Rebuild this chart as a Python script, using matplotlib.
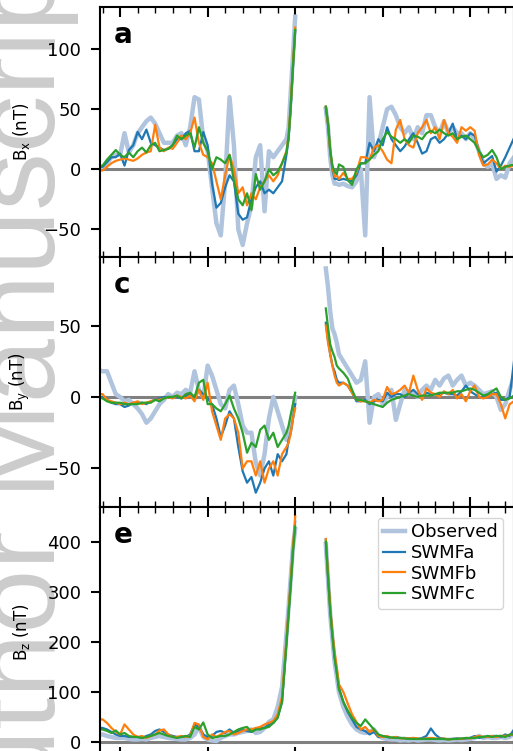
import matplotlib
matplotlib.use('Agg')
import matplotlib.pyplot as plt
import numpy as np
from matplotlib.ticker import MultipleLocator

# time axis (minutes from closest approach), data gap between the two segments
t_pre = list(np.arange(-22.5, -0.75, 0.5)) + [-0.75, -0.5, -0.25, 0.0]
t_post = [3.5, 3.75, 4.0, 4.25, 4.5, 4.75] + list(np.arange(5.0, 25.01, 0.5))
t_gap = 1.75

# ---- Bx ----
bx_obs_pre = [2, 2, 5, 10, 12, 12, 30, 14, 20, 30, 35, 40, 43, 38, 30, 22, 22, 22, 28, 30,
              20, 35, 60, 58, 25, 15, -15, -45, -55, -10, 60, 20, -50, -63, -45, -30, 10, 20, -35, 15,
              10, 15, 20, 25, 35, 65, 95, 127]
bx_obs_post = [50, 35, 10, -5, -12, -12, -13,
               -12, -14, -15, -10, 0, -55, 60, 10, 20, 35,
               50, 52, 45, 35, 30, 35, 25, 35, 30, 45,
               45, 35, 30, 40, 30, 35, 30, 30, 25, 30,
               25, 15, 5, 2, 5, -8, -5, -7, 5, 10]
bx_a_pre = [2, 2, 6, 10, 10, 13, 3, 16, 20, 31, 25, 33, 22, 20, 18, 16, 17, 20, 25, 25,
            30, 32, 15, 15, 31, 20, -12, -32, -28, -15, -5, -10, -37, -42, -40, -25, -15, -10, -20, -17,
            -20, -15, -10, 12, 25, 52, 85, 115]
bx_a_post = [52, 38, 15, 0, -8, -8, -9,
             -8, -9, -10, -5, 5, 5, 22, 15, 25, 20,
             35, 25, 20, 15, 19, 25, 30, 22, 13, 15,
             25, 27, 22, 25, 30, 38, 25, 28, 25, 30,
             28, 15, 5, 8, 11, -2, 3, 10, 18, 26]
bx_b_pre = [-1, -1, 2, 5, 7, 8, 9, 8, 7, 9, 12, 14, 15, 37, 18, 15, 18, 17, 22, 28,
            25, 30, 43, 22, 12, 10, 5, -10, -25, -5, 12, 0, -20, -15, -30, -20, -25, -15, -10, -5,
            -10, -5, 5, 15, 28, 55, 88, 118]
bx_b_post = [52, 38, 15, 2, -6, -5, -8,
             -3, -8, -8, -3, 10, 10, 8, 18, 20, 15,
             8, 5, 33, 41, 25, 20, 18, 30, 35, 41,
             30, 35, 25, 41, 30, 27, 22, 35, 32, 35,
             32, 12, 3, 4, 8, 5, 0, 3, 2, 3]
bx_c_pre = [2, 3, 8, 12, 16, 12, 10, 14, 10, 15, 18, 14, 20, 22, 15, 16, 17, 20, 28, 25,
            28, 30, 18, 35, 22, 15, 0, 10, 8, 5, 12, -10, -25, -30, -20, -34, -4, -17, -10, 0,
            -5, -2, 5, 14, 27, 54, 86, 116]
bx_c_post = [52, 38, 16, 3, -2, -4, 4,
             2, -9, -13, 0, 5, 5, 8, 12, 15, 25,
             31, 27, 25, 22, 25, 22, 28, 27, 25, 30,
             32, 30, 33, 30, 28, 30, 25, 27, 28, 25,
             22, 15, 10, 12, 16, 10, 0, 2, 3, 4]

# ---- By ----
by_obs_pre = [19, 18, 18, 10, 2, 0, -3, -2, -5, -8, -12, -18, -15, -10, -5, -2, 2, 0, 3, 2,
              5, 3, 18, 5, 0, 22, 15, 5, -5, -8, 5, 8, -5, -20, -25, -25, -46, -55, -40, -15,
              0, -10, -20, -30, -25, -20, -10, 0]
by_obs_post = [90, 77, 60, 48, 44, 38, 30,
               25, 20, 15, 10, 12, 25, -18, 0, 2, -5,
               0, 5, -16, -5, 5, 2, 3, 0, 5, 8,
               5, 12, 8, 13, 15, 8, 12, 15, 8, 10,
               8, 5, 2, 3, 4, 0, -9, -5, 5, 14]
by_a_pre = [0, 0, -2, -4, -5, -5, -7, -6, -4, -4, -4, -5, -3, -2, -1, 0, 0, 0, 0, -1,
            1, 2, 0, 5, 2, -1, -5, -15, -28, -20, -10, -15, -35, -52, -60, -56, -67, -60, -50, -45,
            -55, -40, -45, -40, -30, -25, -15, -5]
by_a_post = [52, 40, 30, 22, 18, 12, 10,
             10, 8, 3, -3, -3, -2, -5, -3, -2, -3,
             3, 0, 2, 2, 0, 3, 5, 2, 0, 3,
             2, 2, 2, 3, 2, 2, 1, 4, 8, 4,
             2, 0, 0, 1, 2, 3, -2, -2, 0, 25]
by_b_pre = [2, 2, -2, -3, -4, -5, -4, -5, -4, -3, -5, -4, -3, -2, -2, -1, 0, -1, 1, 0,
            -1, 1, -3, 5, -2, 10, -10, -20, -30, -15, -12, -15, -25, -50, -45, -45, -55, -45, -60, -50,
            -45, -55, -40, -35, -32, -25, -15, -8]
by_b_post = [50, 38, 30, 22, 15, 10, 8,
             10, 8, 3, -2, -3, -3, -4, -2, -3, -2,
             7, 2, 3, 5, 8, 3, 15, 5, -2, 6,
             3, 2, 0, 4, 2, 5, -1, 2, -3, 4,
             8, 0, -1, 0, 2, 2, -5, -15, -5, -3]
by_c_pre = [0, -1, -3, -4, -4, -4, -5, -5, -5, -5, -4, -4, -4, -2, -3, -1, 0, 0, 1, -1,
            2, 3, 0, 10, 12, -5, -5, -8, -10, -5, 1, -8, -15, -25, -39, -32, -35, -23, -20, -30,
            -25, -35, -30, -25, -20, -12, -5, 3]
by_c_post = [62, 49, 37, 32, 28, 22, 20,
             17, 13, 5, -2, -2, -3, -4, -5, -6, -7,
             -4, -2, -1, 0, 1, 2, 1, 0, 1, 1,
             1, 2, 3, 3, 3, 3, 4, 4, 5, 6,
             5, 3, 1, 2, 4, 6, 0, -2, -1, 1]

# ---- Bz ----
bz_obs_pre = [15, 15, 12, 10, 8, 8, 8, 6, 5, 5, 6, 5, 8, 10, 12, 10, 8, 7, 6, 5,
              5, 8, 15, 30, 10, 5, 3, 2, 8, 12, 15, 15, 18, 20, 22, 25, 18, 20, 28, 40,
              45, 70, 110, 215, 270, 330, 390, 425]
bz_obs_post = [395, 325, 255, 205, 160, 130, 100,
               70, 50, 35, 25, 20, 18, 20, 25, 12, 8,
               6, 5, 5, 3, 4, 3, 5, 3, 4, 5,
               5, 4, 3, 4, 3, 4, 5, 4, 5, 6,
               8, 12, 8, 10, 8, 8, 10, 8, 10, 18]
bz_a_pre = [28, 28, 25, 20, 15, 12, 12, 10, 10, 10, 8, 12, 15, 22, 25, 20, 15, 12, 10, 10,
            10, 15, 35, 30, 15, 10, 12, 20, 22, 18, 25, 18, 22, 25, 22, 20, 25, 28, 28, 35,
            38, 50, 80, 200, 260, 320, 385, 440]
bz_a_post = [405, 330, 265, 215, 170, 140, 108,
             80, 60, 45, 30, 25, 22, 15, 20, 10, 12,
             10, 8, 10, 8, 8, 7, 8, 6, 8, 12,
             27, 15, 8, 6, 6, 6, 7, 6, 7, 8,
             12, 8, 10, 10, 12, 12, 10, 15, 12, 25]
bz_b_pre = [45, 45, 38, 28, 20, 15, 35, 25, 15, 10, 12, 8, 12, 15, 23, 25, 15, 10, 10, 12,
            10, 12, 38, 35, 10, 5, 15, 10, 15, 20, 22, 15, 18, 22, 25, 25, 28, 30, 35, 38,
            42, 55, 90, 205, 265, 325, 390, 450]
bz_b_post = [405, 335, 270, 220, 180, 150, 115,
             100, 77, 55, 40, 25, 30, 20, 25, 12, 10,
             12, 8, 10, 7, 8, 7, 8, 7, 6, 7,
             8, 7, 6, 7, 5, 6, 6, 6, 8, 7,
             10, 12, 10, 10, 12, 10, 12, 12, 14, 15]
bz_c_pre = [25, 25, 22, 18, 23, 15, 18, 12, 10, 10, 8, 10, 12, 15, 18, 15, 12, 10, 8, 10,
            12, 10, 30, 25, 39, 15, 8, 10, 12, 12, 15, 20, 25, 28, 30, 20, 25, 25, 28, 30,
            38, 48, 80, 195, 255, 315, 380, 430]
bz_c_post = [400, 330, 262, 212, 168, 138, 105,
             80, 63, 48, 38, 32, 45, 35, 25, 15, 12,
             10, 9, 8, 8, 7, 6, 6, 6, 6, 6,
             6, 6, 6, 6, 5, 6, 6, 7, 8, 8,
             8, 10, 10, 12, 10, 12, 12, 10, 15, 15]

labels = ['Observed', 'SWMFa', 'SWMFb', 'SWMFc']
colors = ['lightsteelblue', 'tab:blue', 'tab:orange', 'tab:green']
widths = [3.2, 1.6, 1.6, 1.6]

time = np.array(t_pre + [t_gap] + t_post)


def join(pre, post):
    return np.array(pre + [np.nan] + post, dtype=float)


panels = [
    ('a', r'$\mathrm{B_x}$ (nT)', (-73, 135), [-50, 0, 50, 100],
     [bx_obs_pre, bx_a_pre, bx_b_pre, bx_c_pre], [bx_obs_post, bx_a_post, bx_b_post, bx_c_post]),
    ('c', r'$\mathrm{B_y}$ (nT)', (-77, 98), [-50, 0, 50],
     [by_obs_pre, by_a_pre, by_b_pre, by_c_pre], [by_obs_post, by_a_post, by_b_post, by_c_post]),
    ('e', r'$\mathrm{B_z}$ (nT)', (-30, 469), [0, 100, 200, 300, 400],
     [bz_obs_pre, bz_a_pre, bz_b_pre, bz_c_pre], [bz_obs_post, bz_a_post, bz_b_post, bz_c_post]),
]

W, H = 513, 751
fig = plt.figure(figsize=(W / 100, H / 100), dpi=100)

fig.text(55 / W, 1 - 870 / H, 'Author Manuscript', rotation=90, rotation_mode='anchor',
         ha='left', va='baseline', fontsize=83, color='#cccccc',
         family='Liberation Sans', zorder=-5)

tops = [7, 257, 507]
for (tag, ylab, ylim, yticks, pre, post), top in zip(panels, tops):
    ax = fig.add_axes([100 / W, 1 - (top + 250) / H, 414 / W, 250 / H])
    ax.axhline(0, color='gray', lw=2.2, zorder=1)
    for p, q, lab, c, lw in zip(pre, post, labels, colors, widths):
        ax.plot(time, join(p, q), color=c, lw=lw, label=lab, zorder=2)
    ax.set_xlim(-22.3, 25.0)
    ax.set_ylim(*ylim)
    ax.set_yticks(yticks)
    ax.xaxis.set_major_locator(MultipleLocator(10))
    ax.xaxis.set_minor_locator(MultipleLocator(2))
    ax.tick_params(axis='x', which='both', direction='in', top=True, bottom=True,
                   labelbottom=False)
    ax.tick_params(axis='x', which='major', length=7, width=1.5)
    ax.tick_params(axis='x', which='minor', length=4, width=1.0)
    ax.tick_params(axis='y', which='major', direction='out', length=6.5, width=1.5,
                   pad=7, labelsize=13)
    for s in ax.spines.values():
        s.set_linewidth(1.5)
    ax.set_ylabel(ylab, fontsize=12)
    ax.yaxis.set_label_coords(-0.165, 0.5)
    ax.text(0.034, 1 - 36 / 250, tag, transform=ax.transAxes, fontsize=20,
            fontweight='bold', va='baseline', ha='left')
    if tag == 'e':
        ax.legend(loc='upper right', fontsize=13, labelspacing=0.15, handlelength=1.2,
                  handletextpad=0.35, borderpad=0.3, borderaxespad=0.6)

fig.savefig('out.png', dpi=100)
